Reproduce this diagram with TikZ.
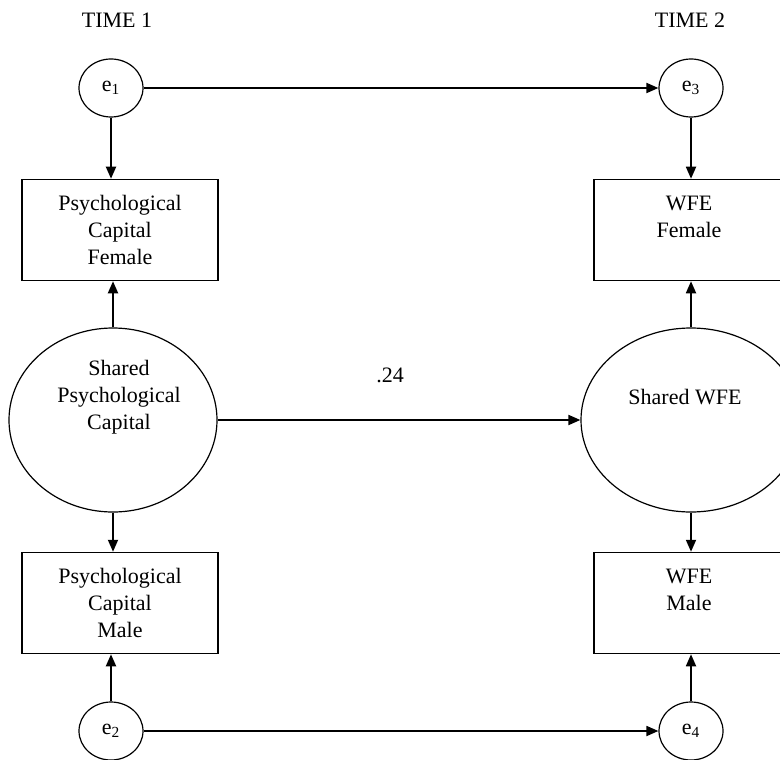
\documentclass[tikz,border=0pt]{standalone}
\usepackage{fontspec}
\setmainfont{Liberation Serif}
\usetikzlibrary{arrows.meta}
\usetikzlibrary{shapes.geometric}

\tikzset{
    errnode/.style={draw, ellipse, line width=0.6pt, minimum width=32pt, minimum height=29pt, inner sep=0pt},
    obsbox/.style={draw, rectangle, line width=0.75pt, minimum width=98pt, minimum height=50.5pt, align=center, inner sep=0pt},
    latnode/.style={draw, ellipse, line width=0.6pt, minimum height=92pt, inner sep=0pt},
    arr/.style={line width=0.9pt, -{Triangle[length=6pt,width=5pt]}},
}

\begin{document}
\begin{tikzpicture}[x=0.5pt, y=-0.5pt, font=\fontsize{11}{13.5}\selectfont]
    \useasboundingbox (0, 0) rectangle (780, 759);

    % column headings
    \node (time1) at (117, 20) {TIME 1};
    \node (time2) at (690, 20) {TIME 2};

    % error terms
    \node[errnode] (e1) at (111, 88) {e\textsubscript{1}};
    \node[errnode] (e3) at (691, 88) {e\textsubscript{3}};
    \node[errnode] (e2) at (111, 731) {e\textsubscript{2}};
    \node[errnode] (e4) at (691, 731) {e\textsubscript{4}};

    % observed scores
    \node[obsbox] (pcf) at (120, 230) {Psychological\\Capital\\Female};
    \node[obsbox] (pcm) at (120, 603) {Psychological\\Capital\\Male};
    \node[obsbox, minimum width=95pt] (wfef) at (689, 230) {WFE\\Female\\\phantom{Female}};
    \node[obsbox, minimum width=95pt] (wfem) at (689, 603) {WFE\\Male\\\phantom{Male}};

    % shared latent factors
    \node[latnode, minimum width=104pt] (spc) at (113, 420) {};
    \node[align=center] (spctext) at (119, 397) {Shared\\Psychological\\Capital};
    \node[latnode, minimum width=110pt] (swfe) at (691, 420) {};
    \node (swfetext) at (685, 397) {Shared WFE};

    % paths
    \draw[arr] (e1.east) -- (e3.west);
    \draw[arr] (spc.east) -- (swfe.west);
    \draw[arr] (e2.east) -- (e4.west);
    \node (coef) at (390, 375) {.24};

    \draw[arr] (e1.south) -- (e1.south |- pcf.north);
    \draw[arr] (spc.north) -- (spc.north |- pcf.south);
    \draw[arr] (spc.south) -- (spc.south |- pcm.north);
    \draw[arr] (e2.north) -- (e2.north |- pcm.south);

    \draw[arr] (e3.south) -- (e3.south |- wfef.north);
    \draw[arr] (swfe.north) -- (swfe.north |- wfef.south);
    \draw[arr] (swfe.south) -- (swfe.south |- wfem.north);
    \draw[arr] (e4.north) -- (e4.north |- wfem.south);
\end{tikzpicture}
\end{document}
